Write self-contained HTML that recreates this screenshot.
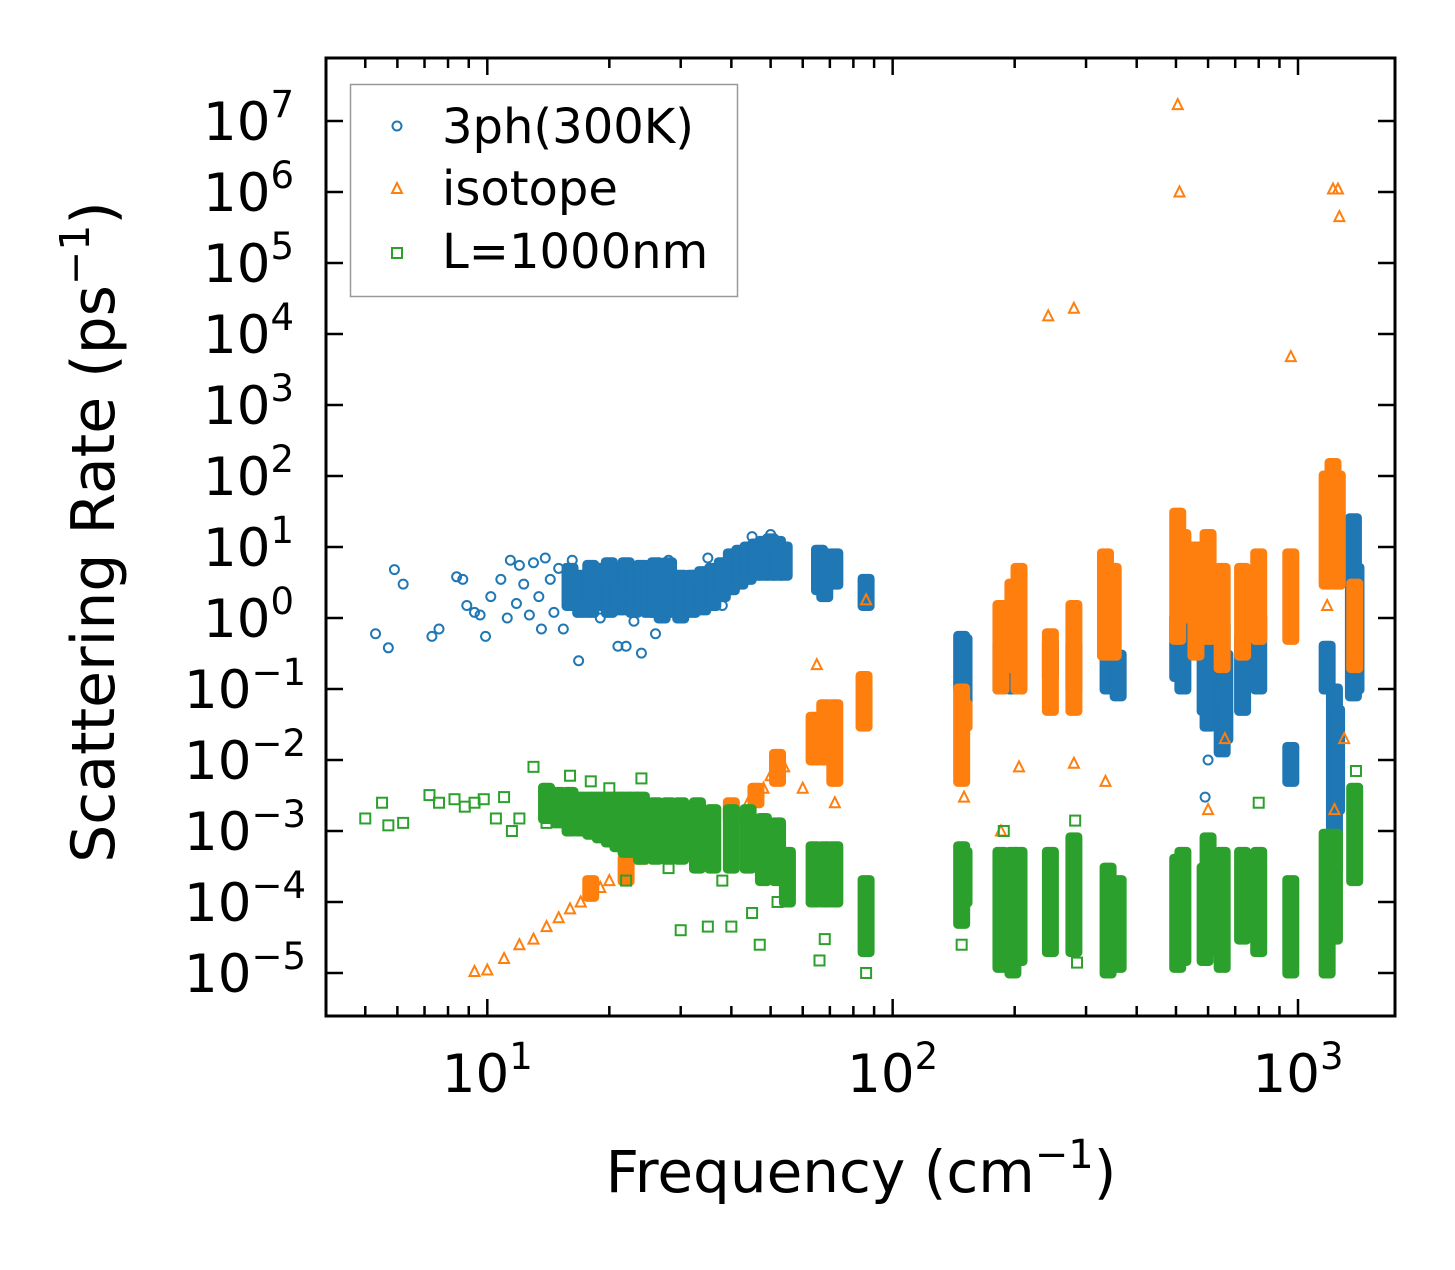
<!DOCTYPE html>
<html><head><meta charset="utf-8"><style>
body{margin:0;background:#fff}
svg text{font-family:"DejaVu Sans","Liberation Sans",sans-serif}
</style></head><body>
<svg id="chart" width="1455" height="1265" viewBox="0 0 1455 1265" xmlns="http://www.w3.org/2000/svg">
<rect width="1455" height="1265" fill="#fff"/>
<g id="marks"></g>
<g id="axes"></g>
<text x="861" y="1192" font-size="58" text-anchor="middle">Frequency (cm<tspan font-size="40" dy="-24">−1</tspan><tspan dy="24">)</tspan></text>
<text transform="translate(114,532) rotate(-90)" font-size="60" text-anchor="middle">Scattering Rate (ps<tspan font-size="41" dy="-25">−1</tspan><tspan dy="25">)</tspan></text>
<g>
<rect x="350.5" y="84.5" width="387" height="212" fill="#fff" stroke="#999" stroke-width="1.5"/>
<circle cx="397" cy="126" r="4.5" fill="none" stroke="#1f77b4" stroke-width="2"/>
<text x="442" y="143" font-size="48">3ph(300K)</text>
<path d="M397,183 L402,193 L392,193 Z" fill="none" stroke="#ff7f0e" stroke-width="2"/>
<text x="442" y="205" font-size="48">isotope</text>
<rect x="392" y="248" width="10" height="10" fill="none" stroke="#2ca02c" stroke-width="2"/>
<text x="442" y="268" font-size="48">L=1000nm</text>
</g>
</svg>
<script>
// data: scattered points [frequency, rate]
const bluePts=[[5.3,0.6],[5.7,0.38],[5.9,4.8],[6.2,3.0],[7.3,0.55],[7.6,0.7],[8.4,3.8],[8.7,3.5],[8.9,1.5],[9.3,1.2],[9.6,1.1],[9.9,0.55],[10.2,2.0],[10.8,3.5],[11.2,1.0],[11.4,6.5],[11.8,1.6],[12.0,5.5],[12.3,3.0],[12.7,1.1],[13.0,6.0],[13.4,2.0],[13.6,0.7],[13.9,7.0],[14.3,3.5],[14.6,1.2],[15.0,5.0],[15.4,0.7],[15.8,2.5],[16.2,6.5],[16.8,0.25],[17.2,1.5],[17.8,5.5],[18.5,3.0],[19.0,1.0],[20,4.0],[21,0.4],[21.5,2.0],[22,0.4],[23,0.9],[24,0.32],[25,5.5],[26,0.6],[27,2.5],[28,6.5],[30,1.0],[32,4.0],[35,7],[38,1.5],[45,14],[50,15],[660,0.08],[650,0.015],[590,0.003],[600,0.01],[1230,0.0015],[1240,0.0008],[960,0.012]];
const blueBands=[[16,1.5,5],[17,1.2,4],[18,1.2,5.5],[19,1.5,5],[20,1.2,6],[21,1.3,5],[22,1.3,6],[23,1.2,5],[24,1.3,5.5],[25,1.2,5],[26,1.2,6],[27,1.0,5],[28,1.2,6],[30,1.0,4],[32,1.2,4],[34,1.3,4.5],[36,1.5,5],[38,2,6],[40,2.5,8],[42,3,9],[44,3.5,10],[46,4,11],[48,4,12],[50,4,13],[52,4,12],[54,4,10],[66,2.5,9],[68,2,8],[72,3,8],[86,1.5,3.5],[148,0.1,0.55],[150,0.03,0.5],[185,0.1,0.4],[198,0.1,0.5],[205,0.2,0.5],[245,0.15,0.45],[280,0.1,0.4],[340,0.1,0.5],[360,0.08,0.3],[505,0.15,1],[520,0.1,0.8],[590,0.05,0.5],[600,0.03,0.6],[650,0.013,0.8],[660,0.02,0.3],[730,0.05,0.5],[800,0.1,1],[960,0.005,0.015],[1180,0.1,0.4],[1230,0.0003,0.1],[1245,0.002,0.05],[1370,0.08,25],[1390,0.1,5]];
const orangePts=[[9.3,1.05e-5],[10,1.1e-5],[11,1.6e-5],[12,2.5e-5],[13,3e-5],[14,4.5e-5],[15,6e-5],[16,8e-5],[17,1e-4],[18,1.3e-4],[19,1.6e-4],[20,2e-4],[22,3e-4],[24,4e-4],[26,5e-4],[28,6.5e-4],[30,8e-4],[33,1e-3],[36,1.3e-3],[40,1.8e-3],[44,2.5e-3],[48,4e-3],[50,6e-3],[52,1e-2],[54,8e-3],[505,1.7e7],[510,1e6],[1220,1.1e6],[1255,1.1e6],[1265,4.5e5],[242,1.8e4],[280,2.3e4],[960,4.8e3],[86,1.8],[65,0.22],[335,5e-3],[280,9e-3],[205,8e-3],[185,1e-3],[600,2e-3],[660,2e-2],[1230,2e-3],[1300,2e-2],[1180,1.5],[505,4e-4],[150,3e-3],[60,4e-3],[72,2.5e-3]];
const orangeBands=[[18,1.2e-4,2e-4],[22,2e-4,4e-4],[30,6e-4,1.2e-3],[40,1.5e-3,2.5e-3],[46,2.5e-3,4e-3],[52,5e-3,1.2e-2],[64,1e-2,4e-2],[68,1e-2,6e-2],[72,5e-3,6e-2],[85,3e-2,0.15],[148,0.005,0.1],[150,0.03,0.06],[185,0.1,1.5],[198,0.2,3],[205,0.1,5],[245,0.05,0.6],[280,0.05,1.5],[335,0.3,8],[350,0.3,5],[505,0.5,30],[520,1,15],[560,0.3,10],[600,0.5,15],[650,0.2,5],[730,0.3,5],[800,0.5,8],[960,0.5,8],[1180,3,100],[1220,5,150],[1250,3,100],[1380,0.2,3]];
const greenPts=[[5,1.5e-3],[5.5,2.5e-3],[5.7,1.2e-3],[6.2,1.3e-3],[7.2,3.2e-3],[7.6,2.5e-3],[8.3,2.8e-3],[8.8,2.2e-3],[9.3,2.5e-3],[9.8,2.8e-3],[10.5,1.5e-3],[11,3e-3],[11.5,1e-3],[12,1.5e-3],[13,8e-3],[14,1.3e-3],[16,6e-3],[18,5e-3],[20,4e-3],[22,2e-4],[24,5.5e-3],[28,3e-4],[30,4e-5],[35,4.5e-5],[38,2e-4],[40,4.5e-5],[45,7e-5],[47,2.5e-5],[52,1e-4],[55,1.5e-4],[66,1.5e-5],[68,3e-5],[86,1e-5],[148,2.5e-5],[150,8e-5],[282,1.4e-3],[285,1.4e-5],[188,1e-3],[800,2.5e-3],[1390,7e-3]];
const greenBands=[[14,1.5e-3,4e-3],[15,1.3e-3,3.5e-3],[16,1e-3,3.5e-3],[17,1e-3,3e-3],[18,9e-4,3e-3],[19,8e-4,3e-3],[20,7e-4,3e-3],[21,6e-4,3e-3],[22,5e-4,3e-3],[23,5e-4,3e-3],[24,4e-4,3e-3],[26,4e-4,2.5e-3],[28,4e-4,2.5e-3],[30,4e-4,2.5e-3],[33,3e-4,2.5e-3],[36,3e-4,2e-3],[40,3e-4,2e-3],[44,3e-4,2e-3],[48,2e-4,1.5e-3],[52,2e-4,1.3e-3],[55,1e-4,5e-4],[64,1e-4,6e-4],[68,1e-4,6e-4],[72,1e-4,6e-4],[86,2e-5,2e-4],[148,5e-5,6e-4],[150,1e-4,5e-4],[185,1.2e-5,5e-4],[198,1e-5,5e-4],[205,1.5e-5,5e-4],[245,2e-5,5e-4],[280,2e-5,8e-4],[340,1e-5,3e-4],[360,1.2e-5,2e-4],[505,1.2e-5,4e-4],[520,1.5e-5,5e-4],[590,1.5e-5,3e-4],[600,2e-5,8e-4],[650,1.2e-5,5e-4],[730,3e-5,5e-4],[800,2e-5,5e-4],[960,1e-5,2e-4],[1180,1e-5,9e-4],[1230,3e-5,9e-4],[1380,2e-4,4e-3]];
const xTickExps=[1,2,3];
const yTickExps=[-5,-4,-3,-2,-1,0,1,2,3,4,5,6,7];

const L=326,R=1395,T=58,B=1016;
const xmin=Math.log10(4.0),xmax=Math.log10(1735),ymin=-5.606,ymax=7.887;
function X(f){return L+(Math.log10(f)-xmin)/(xmax-xmin)*(R-L);}
function Y(v){return B-(Math.log10(v)-ymin)/(ymax-ymin)*(B-T);}
const NS='http://www.w3.org/2000/svg';
const marks=document.getElementById('marks'),axes=document.getElementById('axes');
function mk(tag,attrs,parent){const e=document.createElementNS(NS,tag);for(const k in attrs)e.setAttribute(k,attrs[k]);parent.appendChild(e);return e;}
function marker(shape,color,x,y,g){
  let e;
  if(shape==='c')e=mk('circle',{cx:x,cy:y,r:4.5,fill:'none',stroke:color,'stroke-width':2},g);
  else if(shape==='t')e=mk('path',{d:`M${x},${y-5.5}L${x+5},${y+4.5}L${x-5},${y+4.5}Z`,fill:'none',stroke:color,'stroke-width':2},g);
  else e=mk('rect',{x:x-5,y:y-5,width:10,height:10,fill:'none',stroke:color,'stroke-width':2},g);
  return e;
}
function series(name,shape,color,pts,bands){
  const g=mk('g',{},marks);
  
  
  bands.forEach(b=>{
    const x=X(b[0]),y1=Y(b[2]),y2=Y(b[1]);
    const r=mk('rect',{x:x-8,y:y1-5,width:16,height:(y2-y1)+10,rx:4,fill:color,stroke:color,'stroke-width':1},g);
    
    
  });
  pts.forEach(p=>{
    const e=marker(shape,color,X(p[0]),Y(p[1]),g);
    
    
  });
}
series('3ph','c','#1f77b4',bluePts,blueBands);
series('isotope','t','#ff7f0e',orangePts,orangeBands);
series('boundary','s','#2ca02c',greenPts,greenBands);

const frame=mk('rect',{x:L,y:T,width:R-L,height:B-T,fill:'none',stroke:'#000','stroke-width':3},axes);


for(let e=0;e<=3;e++){for(let m=1;m<10;m++){const f=m*Math.pow(10,e);if(f<4||f>1735)continue;const x=X(f);const len=m===1?17:10;
  const t1=mk('line',{x1:x,y1:B,x2:x,y2:B-len,stroke:'#000','stroke-width':2.5},axes);
  
  const t2=mk('line',{x1:x,y1:T,x2:x,y2:T+len,stroke:'#000','stroke-width':2.5},axes);
  }}
xTickExps.forEach(e=>{const x=X(Math.pow(10,e));
  const t=mk('text',{x:x,y:1092,'font-size':53,'text-anchor':'middle'},axes);
  
  t.innerHTML='10<tspan font-size="37" dy="-23">'+e+'</tspan>';});
yTickExps.forEach(e=>{const y=Y(Math.pow(10,e));
  const t1=mk('line',{x1:L,y1:y,x2:L+17,y2:y,stroke:'#000','stroke-width':2.5},axes);
  
  const t2=mk('line',{x1:R,y1:y,x2:R-17,y2:y,stroke:'#000','stroke-width':2.5},axes);
  
  const t=mk('text',{x:e<0?306:294,y:y+19,'font-size':53,'text-anchor':'end'},axes);
  
  t.innerHTML='10<tspan font-size="37" dy="-23">'+(e<0?'−'+(-e):e)+'</tspan>';});
</script>
</body></html>
